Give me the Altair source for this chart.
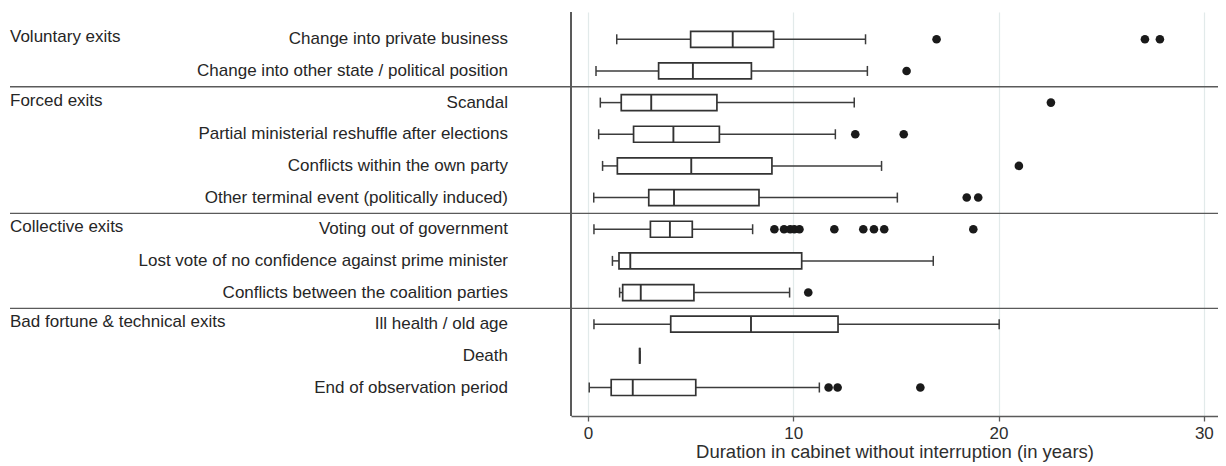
import altair as alt
import pandas as pd

categories = [
    "Change into private business",
    "Change into other state / political position",
    "Scandal",
    "Partial ministerial reshuffle after elections",
    "Conflicts within the own party",
    "Other terminal event (politically induced)",
    "Voting out of government",
    "Lost vote of no confidence against prime minister",
    "Conflicts between the coalition parties",
    "Ill health / old age",
    "Death",
    "End of observation period",
]
groups = ["Voluntary exits", "Forced exits", "Collective exits", "Bad fortune & technical exits"]
group_first_row = [0, 2, 6, 9]
separators = [1.5, 5.5, 8.5]

whisker_low = [1.40, 0.39, 0.60, 0.52, 0.71, 0.28, 0.29, 1.19, 1.54, 0.29, 2.52, 0.06]
q1 = [5.00, 3.44, 1.62, 2.22, 1.43, 2.96, 3.04, 1.51, 1.69, 4.03, 2.52, 1.13]
median = [7.05, 5.11, 3.08, 4.16, 5.03, 4.19, 3.99, 2.06, 2.57, 7.94, 2.52, 2.18]
q3 = [9.04, 7.96, 6.28, 6.40, 8.96, 8.33, 5.08, 10.41, 5.16, 12.18, 2.52, 5.25]
whisker_high = [13.52, 13.61, 12.97, 12.05, 14.30, 15.07, 8.02, 16.82, 9.82, 20.03, 2.52, 11.27]

outliers = [
    [16.98, 27.13, 27.86],
    [15.52],
    [22.55],
    [13.02, 15.38],
    [20.99],
    [18.45, 19.01],
    [9.08, 9.55, 9.85, 10.05, 10.3, 12.0, 13.41, 13.93, 14.43, 18.77],
    [],
    [10.73],
    [],
    [],
    [11.72, 12.16, 16.19],
]

x_ticks = [0, 10, 20, 30]
x_title = "Duration in cabinet without interruption (in years)"

FONT = "Liberation Sans"
W, H = 647, 404

box_df = pd.DataFrame({
    "row": list(range(len(categories))),
    "category": categories,
    "wl": whisker_low, "q1": q1, "median": median, "q3": q3, "wh": whisker_high,
})
out_df = pd.DataFrame(
    [{"row": i, "value": v} for i, vals in enumerate(outliers) for v in vals]
)
group_df = pd.DataFrame({"row": group_first_row, "group": groups})
sep_df = pd.DataFrame({"row": separators})

xscale = alt.Scale(domain=[-0.828, 30.69], nice=False, zero=False, padding=0)
yscale = alt.Scale(domain=[-0.862, 11.9], reverse=True, nice=False, zero=False, padding=0)
Y = alt.Y("row:Q", scale=yscale, axis=None)

xaxis = alt.Axis(
    values=x_ticks, title=x_title, grid=True, gridColor="#e2eaea", gridWidth=1.2,
    domainColor="#5a5a5a", domainWidth=1.6, tickColor="#5a5a5a", tickSize=5, tickWidth=1.3,
    labelFontSize=17, labelColor="#2e2e2e", labelPadding=4, labelFont=FONT,
    titleFontSize=18.5, titleFontWeight="normal", titleColor="#2e2e2e",
    titlePadding=1, titleFont=FONT, labelFlush=False,
)


def X(field):
    return alt.X(field, scale=xscale, axis=xaxis, title=x_title)


LINE = "#3c3c3c"
base = alt.Chart(box_df)

whisk_lo = base.mark_rule(color=LINE, strokeWidth=1.5).encode(
    x=X("wl:Q"), x2="q1:Q", y=Y
)
whisk_hi = base.mark_rule(color=LINE, strokeWidth=1.5).encode(
    x=X("q3:Q"), x2="wh:Q", y=Y
)
cap_lo = base.mark_tick(orient="vertical", size=10, thickness=1.5, color=LINE, opacity=1).encode(
    x=X("wl:Q"), y=Y
)
cap_hi = base.mark_tick(orient="vertical", size=10, thickness=1.5, color=LINE, opacity=1).encode(
    x=X("wh:Q"), y=Y
)
boxes = base.mark_bar(size=16, fill="white", stroke="#333333", strokeWidth=1.7, orient="horizontal").encode(
    x=X("q1:Q"), x2="q3:Q", y=Y
)
medians = base.mark_tick(orient="vertical", size=16, thickness=1.9, color="#333333", opacity=1).encode(
    x=X("median:Q"), y=Y
)
points = alt.Chart(out_df).mark_circle(size=74, color="#1a1a1a", opacity=1).encode(
    x=X("value:Q"), y=Y
)

left_line = alt.Chart(sep_df).mark_rule(color="#5a5a5a", strokeWidth=1.6).encode(
    x=alt.value(0), y=alt.value(0), y2=alt.value(H)
)
sep_lines = alt.Chart(sep_df).mark_rule(color="#5a5a5a", strokeWidth=1.4).encode(
    y=Y, x=alt.value(-561), x2=alt.value(W)
)
cat_labels = base.mark_text(align="right", baseline="middle", fontSize=17, font=FONT, color="#262626").encode(
    x=alt.value(-63), y=Y, text="category:N"
)
grp_labels = alt.Chart(group_df).mark_text(align="left", baseline="middle", fontSize=17, font=FONT, color="#262626", dy=-2).encode(
    x=alt.value(-561), y=Y, text="group:N"
)

chart = alt.layer(
    whisk_lo, whisk_hi, cap_lo, cap_hi, boxes, medians, points,
    left_line, sep_lines, cat_labels, grp_labels,
).properties(
    width=W, height=H,
    autosize=alt.AutoSizeParams(type="none"),
    padding={"left": 563, "top": 4, "right": 0, "bottom": 50},
).configure(font=FONT, background="white").configure_view(stroke=None)

chart.save("out.html", embed_options={"renderer": "svg", "actions": False})
